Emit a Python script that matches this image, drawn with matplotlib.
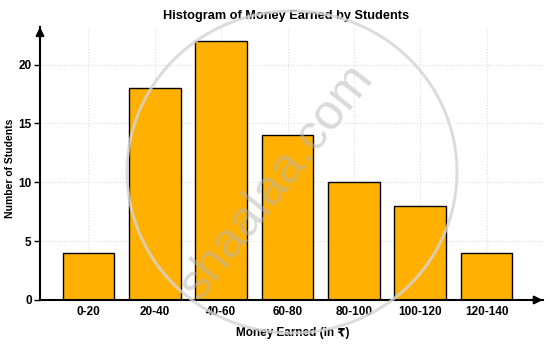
import matplotlib
matplotlib.use("Agg")
import matplotlib.pyplot as plt
from matplotlib.patches import Ellipse

categories = ["0-20", "20-40", "40-60", "60-80", "80-100", "100-120", "120-140"]
students = [4, 18, 22, 14, 10, 8, 4]
yticks = [0, 5, 10, 15, 20]

plt.rcParams['font.family'] = ['Liberation Sans', 'DejaVu Sans']

fig = plt.figure(figsize=(5.53, 3.44), dpi=100)
ax = fig.add_axes([40/553, 1-300/344, 503/553, 273/344])

x = list(range(len(categories)))
ax.bar(x, students, width=0.78, color="#FFB000", edgecolor="black", linewidth=1.0, zorder=3)

ax.set_xlim(-0.73, 6.85)
ax.set_ylim(0, 23.2)
ax.set_xticks(x)
ax.set_xticklabels(categories, fontweight="bold", fontsize=8.5)
ax.set_yticks(yticks)
ax.set_yticklabels([str(v) for v in yticks], fontweight="bold", fontsize=8.5)
ax.tick_params(axis="x", direction="in", length=3, width=1, pad=4)
ax.tick_params(axis="y", direction="out", length=4, width=1, pad=2)

ax.grid(True, linestyle=":", color="#dddddd", linewidth=0.8, zorder=0)
for s in ["top", "right"]:
    ax.spines[s].set_visible(False)
ax.spines["left"].set_linewidth(1.5)
ax.spines["bottom"].set_linewidth(1.5)
ax.spines["left"].set_zorder(4)
ax.spines["bottom"].set_zorder(4)

# axis arrows
ax.annotate("", xy=(1.005, 0), xycoords="axes fraction", xytext=(0.97, 0),
            arrowprops=dict(arrowstyle="-|>", color="black", lw=1.5, mutation_scale=12))
ax.annotate("", xy=(0, 1.01), xycoords="axes fraction", xytext=(0, 0.95),
            arrowprops=dict(arrowstyle="-|>", color="black", lw=1.5, mutation_scale=12))

ax.set_xlabel("Money Earned (in ₹)", fontweight="bold", fontsize=8.5)
ax.xaxis.set_label_coords((293 - 40) / 503, -(327 - 300) / 273)
ax.set_ylabel("Number of Students", fontweight="bold", fontsize=7.5)
ax.yaxis.set_label_coords(-(40 - 15) / 503, (300 - 168) / 273)
fig.text(286/553, 1-16/344, "Histogram of Money Earned by Students",
         ha="center", va="center", fontweight="bold", fontsize=9.2)

# watermark
fig.patches.append(Ellipse((292/553, 1-172/344), 330/553, 322/344, transform=fig.transFigure,
                           fill=False, edgecolor="#d4d4d4", linewidth=2.2, alpha=0.8, zorder=10))
fig.text(277/553, 1-182/344, "shaalaa.com", ha="center", va="center", rotation=52,
         fontsize=36, color="#b5b5b5", alpha=0.5, zorder=10)

fig.savefig("out.png", dpi=100)
